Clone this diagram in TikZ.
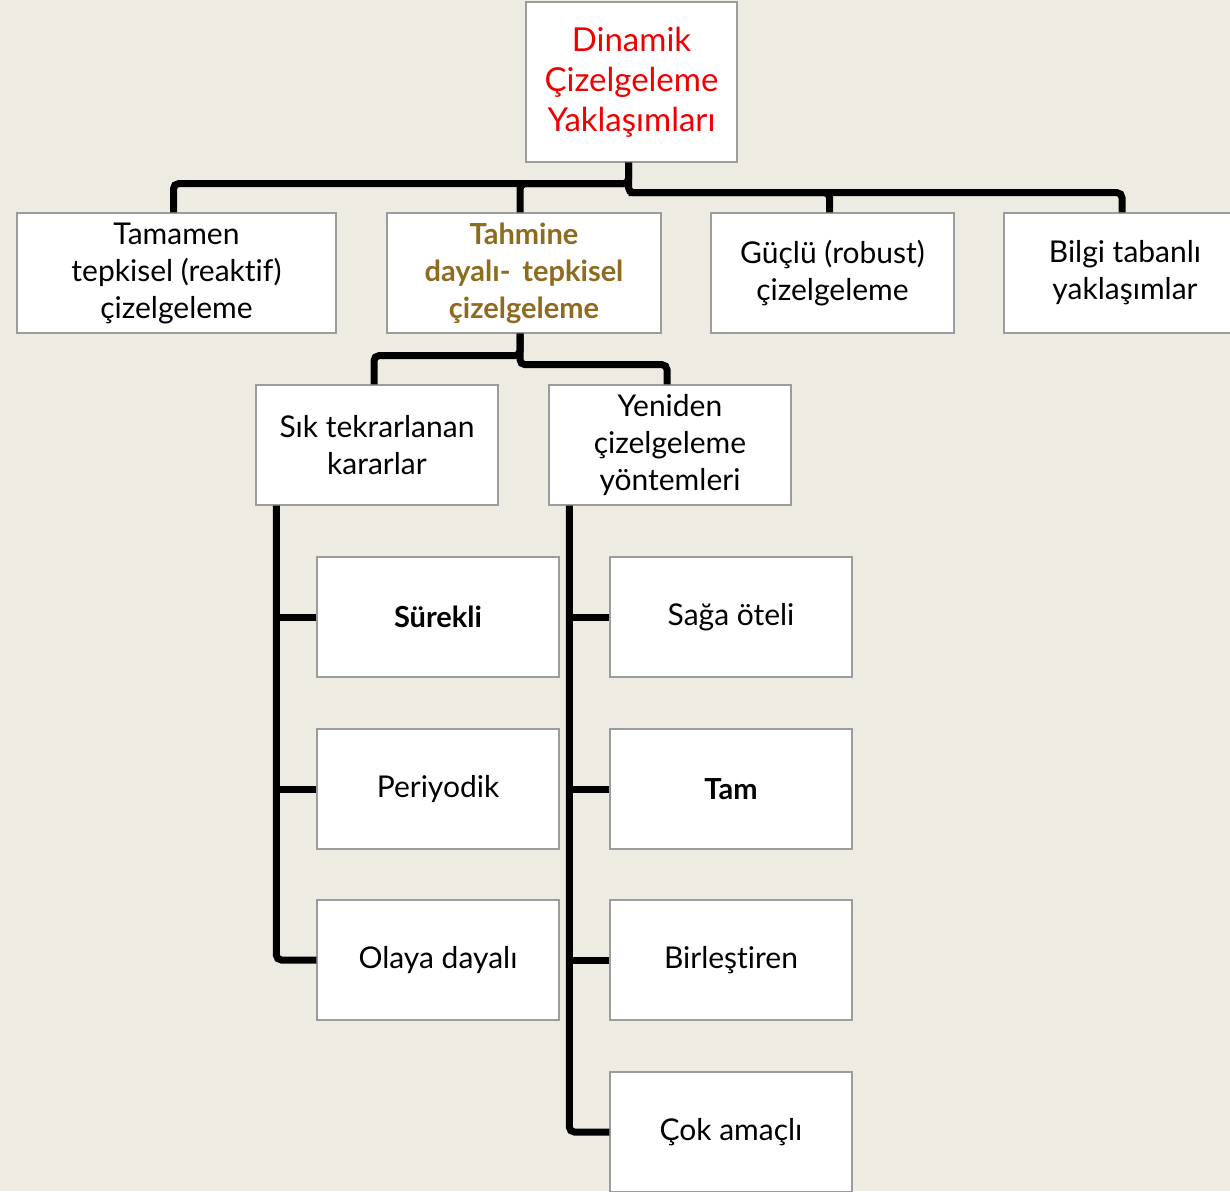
\documentclass[tikz,border=0pt]{standalone}
\usepackage{fontspec}
\setmainfont[Ligatures={NoCommon}]{Lato}
\usetikzlibrary{calc}
\definecolor{bgcol}{HTML}{EEEBE3}
\definecolor{boxline}{HTML}{9C9C9C}
\definecolor{titlered}{HTML}{F00000}
\definecolor{olive}{HTML}{8E6B1E}
\begin{document}
\begin{tikzpicture}[x=1pt,y=-1pt,
  box/.style={draw=boxline,line width=1.3pt,fill=white,inner sep=0pt,
    align=center,font=\fontsize{30}{37}\selectfont},
  conn/.style={line width=7pt,black,rounded corners=5pt},
  lvlone/.style={box,minimum height=120pt},
  leaf/.style={box,minimum width=242pt,minimum height=120pt}]
\fill[bgcol] (0,0) rectangle (1230,1191);
\useasboundingbox (0,0) rectangle (1230,1191);

% root
\node[box,minimum width=211pt,minimum height=160pt,text=titlered,
  font=\fontsize{33}{40}\selectfont] (root) at (631.5,82)
  {Dinamik\\Çizelgeleme\\Yaklaşımları};

% first level
\node[lvlone,minimum width=319pt] (A) at (176.5,273) {Tamamen\\tepkisel (reaktif)\\çizelgeleme};
\node[lvlone,minimum width=274pt,text=olive,font=\bfseries\fontsize{29}{37}\selectfont]
  (B) at (524,273) {Tahmine\\dayalı-\, tepkisel\\çizelgeleme};
\node[lvlone,minimum width=243pt] (C) at (832.5,273) {Güçlü (robust)\\çizelgeleme};
\node[lvlone,minimum width=242pt] (D) at (1125,273) {Bilgi tabanlı\\yaklaşımlar};

% second level
\node[leaf] (E) at (377,445) {Sık tekrarlanan\\kararlar};
\node[leaf] (F) at (670,445) {Yeniden\\çizelgeleme\\yöntemleri};

% leaves
\node[leaf,font=\bfseries\fontsize{29}{37}\selectfont] (E1) at (438,617) {Sürekli};
\node[leaf] (E2) at (438,789) {Periyodik};
\node[leaf] (E3) at (438,960) {Olaya dayalı};
\node[leaf] (F1) at (731,617) {Sağa öteli};
\node[leaf,font=\bfseries\fontsize{29}{37}\selectfont] (F2) at (731,789) {Tam};
\node[leaf] (F3) at (731,960) {Birleştiren};
\node[leaf] (F4) at (731,1132) {Çok amaçlı};

% connectors from the root
\draw[conn] ($(root.south)+(-3,0)$) -- ++(0,21) -| ($(A.north)+(-3,0)$);
\draw[conn] ($(root.south)+(-3,21)$) -| ($(B.north)+(-4,0)$);
\draw[conn] ($(root.south)+(-3,0)$) -- ++(0,30) -| ($(D.north)+(-3,0)$);
\draw[conn] ($(root.south)+(-3,30)$) -| ($(C.north)+(-3,0)$);

% connectors from the second node
\draw[conn] ($(B.south)+(-4,0)$) -- ++(0,22) -| ($(E.north)+(-3,0)$);
\draw[conn] ($(B.south)+(-4,0)$) -- ++(0,31) -| ($(F.north)+(-3,0)$);

% left spine
\coordinate (ls) at ($(E.south west)+(21,0)$);
\draw[conn] (ls) |- (E3.west);
\draw[conn,rounded corners=0pt] (ls |- E1.west) -- (E1.west);
\draw[conn,rounded corners=0pt] (ls |- E2.west) -- (E2.west);

% right spine
\coordinate (rs) at ($(F.south west)+(21,0)$);
\draw[conn] (rs) |- (F4.west);
\draw[conn,rounded corners=0pt] (rs |- F1.west) -- (F1.west);
\draw[conn,rounded corners=0pt] (rs |- F2.west) -- (F2.west);
\draw[conn,rounded corners=0pt] (rs |- F3.west) -- (F3.west);
\end{tikzpicture}
\end{document}
